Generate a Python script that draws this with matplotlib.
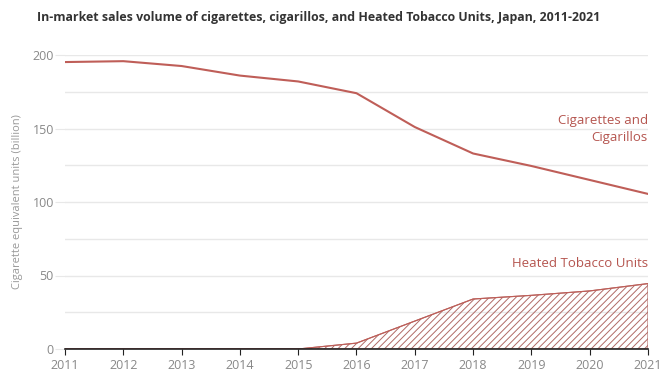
import matplotlib.pyplot as plt

years = [2011, 2012, 2013, 2014, 2015, 2016, 2017, 2018, 2019, 2020, 2021]
cigarettes = [195.2, 195.8, 192.5, 186, 182, 174, 151, 133, 124.5, 115, 105.5]
htu = [0, 0, 0, 0, 0, 4, 19, 34, 36.5, 39.5, 44.5]
yticks = [0, 50, 100, 150, 200]

RED = '#bf5e58'
TXT = '#b5554f'
GREY = '#888888'

plt.rcParams['font.family'] = ['Open Sans', 'DejaVu Sans']
plt.rcParams['hatch.color'] = '#b06a66'
plt.rcParams['hatch.linewidth'] = 0.7

fig = plt.figure(figsize=(6.72, 3.89), dpi=100)
ax = fig.add_axes([65 / 672, 40 / 389, 583 / 672, 294 / 389])

ax.plot(years, cigarettes, color=RED, linewidth=1.5, zorder=3)
ax.fill_between(years, 0, htu, facecolor='none', edgecolor='#b06a66',
                hatch='/////', linewidth=0.8, zorder=3)
ax.plot(years, htu, color=RED, linewidth=0.8, zorder=3)
ax.plot([2021, 2021], [0, htu[-1]], color=RED, linewidth=0.8, zorder=3)

ax.set_xlim(2011, 2021)
ax.set_ylim(0, 200)
ax.set_xticks(years)
ax.set_yticks(yticks)
ax.set_yticks(range(25, 200, 50), minor=True)
ax.grid(axis='y', which='both', color='#e8e8e8', linewidth=1)
ax.set_axisbelow(True)

for s in ['top', 'right', 'left']:
    ax.spines[s].set_visible(False)
ax.spines['bottom'].set_color('#222222')
ax.spines['bottom'].set_linewidth(1.2)
ax.spines['bottom'].set_zorder(4)

ax.tick_params(axis='y', which='both', length=7, color='#e8e8e8', labelcolor=GREY,
               labelsize=9, pad=1)
ax.tick_params(axis='y', which='minor', length=0)
ax.tick_params(axis='x', length=4, color='#222222', labelcolor=GREY, labelsize=9, pad=3)
ax.set_ylabel('Cigarette equivalent units (billion)', color='#999999', fontsize=8, labelpad=7)

ax.text(2021, 139.5, 'Cigarettes and\nCigarillos', color=TXT, fontsize=9.5,
        ha='right', va='bottom', linespacing=1.4)
ax.text(2021, 53.5, 'Heated Tobacco Units', color=TXT, fontsize=9.5,
        ha='right', va='bottom')

fig.text(37 / 672, 1 - 18 / 389,
         'In-market sales volume of cigarettes, cigarillos, and Heated Tobacco Units, Japan, 2011-2021',
         fontsize=8.9, fontweight='bold', color='#333333', va='center', ha='left')

fig.savefig('out.png', dpi=100)
